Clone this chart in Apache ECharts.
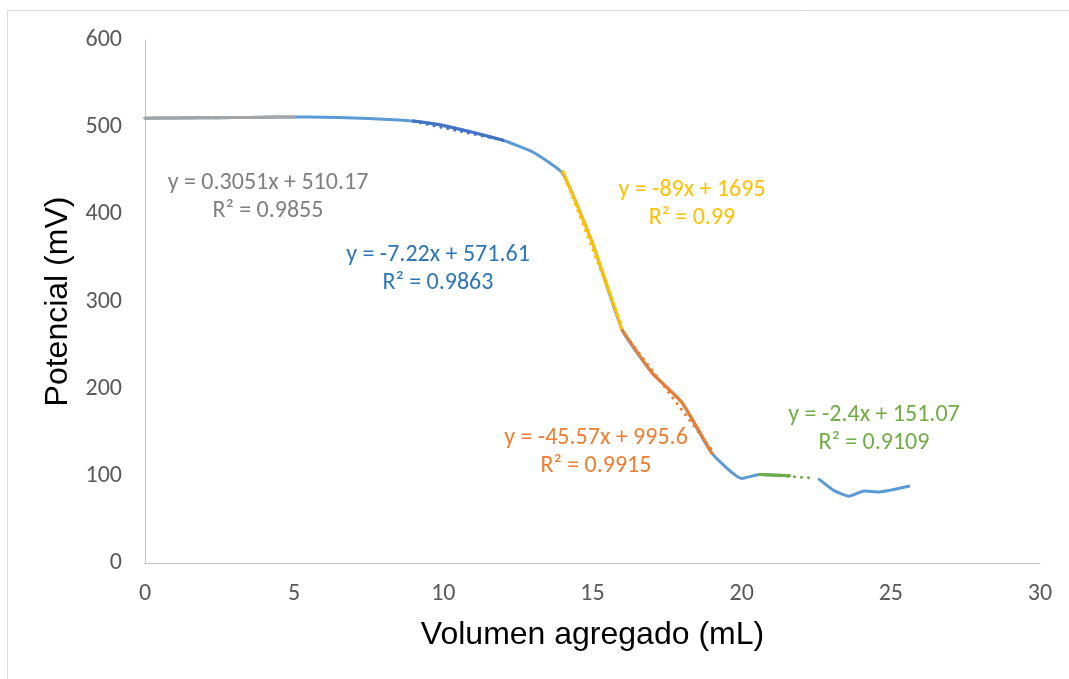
<!DOCTYPE html>
<html>
<head>
<meta charset="utf-8">
<script src="https://cdn.jsdelivr.net/npm/echarts@6/dist/echarts.min.js"></script>
<style>
  html, body { margin: 0; padding: 0; background: #fff; }
  #chart { width: 1069px; height: 679px; }
</style>
</head>
<body>
<div id="chart"></div>
<script>
// Titration curve: potential vs. added volume, with linear fits per region
const volume = [0, 1, 2, 3, 4, 5, 6, 7, 8, 9, 10, 11, 12, 13, 14, 15, 16, 17, 18, 19, 20, 20.6, 21.6, 22.1, 22.6, 23.1, 23.6, 24.1, 24.6, 25.6];
const potential = [510.2, 510.6, 510.8, 511.0, 511.4, 511.7, 511.4, 510.6, 509.2, 507.0, 502.0, 494.0, 485.0, 471.5, 447.0, 367.0, 267.0, 218.0, 184.0, 126.0, 97.0, 101.5, 100.0, '-', 96.0, 83.0, 76.5, 82.5, 81.5, 88.0];

// Segments used for each linear fit
const segGrayX = [0, 1, 2, 3, 4, 5];
const segGrayY = [510.2, 510.6, 510.7, 511.0, 511.4, 511.7];
const segBlueX = [9, 10, 11, 12];
const segBlueY = [507.0, 502.0, 494.0, 485.0];
const segYellowX = [14, 15, 16];
const segYellowY = [449.5, 367.0, 267.0];
const segOrangeX = [16, 17, 18, 19];
const segOrangeY = [267.0, 218.0, 184.0, 126.0];
const segGreenX = [20.6, 21.6];
const segGreenY = [101.5, 100.0];

// Fit coefficients (slope, intercept), fitted range and R²
const fitSlope = [0.3051, -7.22, -89, -45.57, -2.4];
const fitIntercept = [510.17, 571.61, 1695, 995.6, 151.07];
const fitFrom = [0, 9, 14, 16, 20.6];
const fitTo = [5, 12, 16, 19, 22.35];
const fitR2 = ['0.9855', '0.9863', '0.99', '0.9915', '0.9109'];
const fitEquation = ['y = 0.3051x + 510.17', 'y = -7.22x + 571.61', 'y = -89x + 1695', 'y = -45.57x + 995.6', 'y = -2.4x + 151.07'];

const xTicks = [0, 5, 10, 15, 20, 25, 30];
const yTicks = [0, 100, 200, 300, 400, 500, 600];

const segColors = ['#A5A5A5', '#4472C4', '#FFC000', '#ED7D31', '#70AD47'];
const labelColors = ['#7F7F7F', '#2E75B6', '#FFC000', '#ED7D31', '#70AD47'];
const labelPos = [[268, 183], [438, 255], [692, 190], [596, 438], [874, 415]];

const zip = (xs, ys) => xs.map((x, i) => [x, ys[i]]);
const segments = [
  zip(segGrayX, segGrayY),
  zip(segBlueX, segBlueY),
  zip(segYellowX, segYellowY),
  zip(segOrangeX, segOrangeY),
  zip(segGreenX, segGreenY)
];

const calibri = 'Carlito, Lato, "Open Sans", sans-serif';
const arial = '"Liberation Sans", Arial, sans-serif';

const series = [{
  type: 'line',
  data: zip(volume, potential),
  smooth: 0.15,
  showSymbol: false,
  connectNulls: false,
  lineStyle: { color: '#5B9BD5', width: 3, cap: 'round', join: 'round' },
  z: 2
}];

segments.forEach((seg, i) => {
  series.push({
    type: 'line',
    data: seg,
    smooth: 0.15,
    showSymbol: false,
    lineStyle: { color: segColors[i], width: 3, cap: 'round', join: 'round' },
    z: 3
  });
  series.push({
    type: 'line',
    data: [fitFrom[i], fitTo[i]].map(x => [x, fitSlope[i] * x + fitIntercept[i]]),
    showSymbol: false,
    lineStyle: { color: segColors[i], width: 3, type: [0.01, 7], cap: 'round' },
    z: 4
  });
});

const graphics = [{
  type: 'rect',
  shape: { x: 7.5, y: 10.5, width: 1200, height: 800 },
  style: { fill: 'none', stroke: '#D9D9D9', lineWidth: 1 },
  silent: true
}];
labelPos.forEach((p, i) => {
  graphics.push({
    type: 'text', x: p[0], y: p[1],
    style: { text: fitEquation[i], fill: labelColors[i], font: '24px ' + calibri, textAlign: 'center', textVerticalAlign: 'middle' }
  });
  graphics.push({
    type: 'text', x: p[0], y: p[1] + 28,
    style: { text: 'R² = ' + fitR2[i], fill: labelColors[i], font: '24px ' + calibri, textAlign: 'center', textVerticalAlign: 'middle' }
  });
});

const chart = echarts.init(document.getElementById('chart'), null, { renderer: 'canvas' });
chart.setOption({
  animation: false,
  backgroundColor: '#fff',
  grid: { left: 145, right: 29, top: 40, bottom: 116 },
  xAxis: {
    type: 'value', min: xTicks[0], max: xTicks[xTicks.length - 1], interval: xTicks[1] - xTicks[0],
    name: 'Volumen agregado (mL)', nameLocation: 'middle', nameGap: 56,
    nameTextStyle: { color: '#000', fontSize: 32, fontFamily: arial },
    axisLine: { lineStyle: { color: '#BFBFBF', width: 1 } },
    axisTick: { show: false },
    splitLine: { show: false },
    axisLabel: { color: '#595959', fontSize: 24, fontFamily: calibri, margin: 19 }
  },
  yAxis: {
    type: 'value', min: yTicks[0], max: yTicks[yTicks.length - 1], interval: yTicks[1] - yTicks[0],
    name: 'Potencial (mV)', nameLocation: 'middle', nameGap: 64,
    nameTextStyle: { color: '#000', fontSize: 32, fontFamily: arial },
    axisLine: { show: true, lineStyle: { color: '#BFBFBF', width: 1 } },
    axisTick: { show: false },
    splitLine: { show: false },
    axisLabel: { color: '#595959', fontSize: 24, fontFamily: calibri, margin: 23 }
  },
  series: series,
  graphic: graphics
});
</script>
</body>
</html>
